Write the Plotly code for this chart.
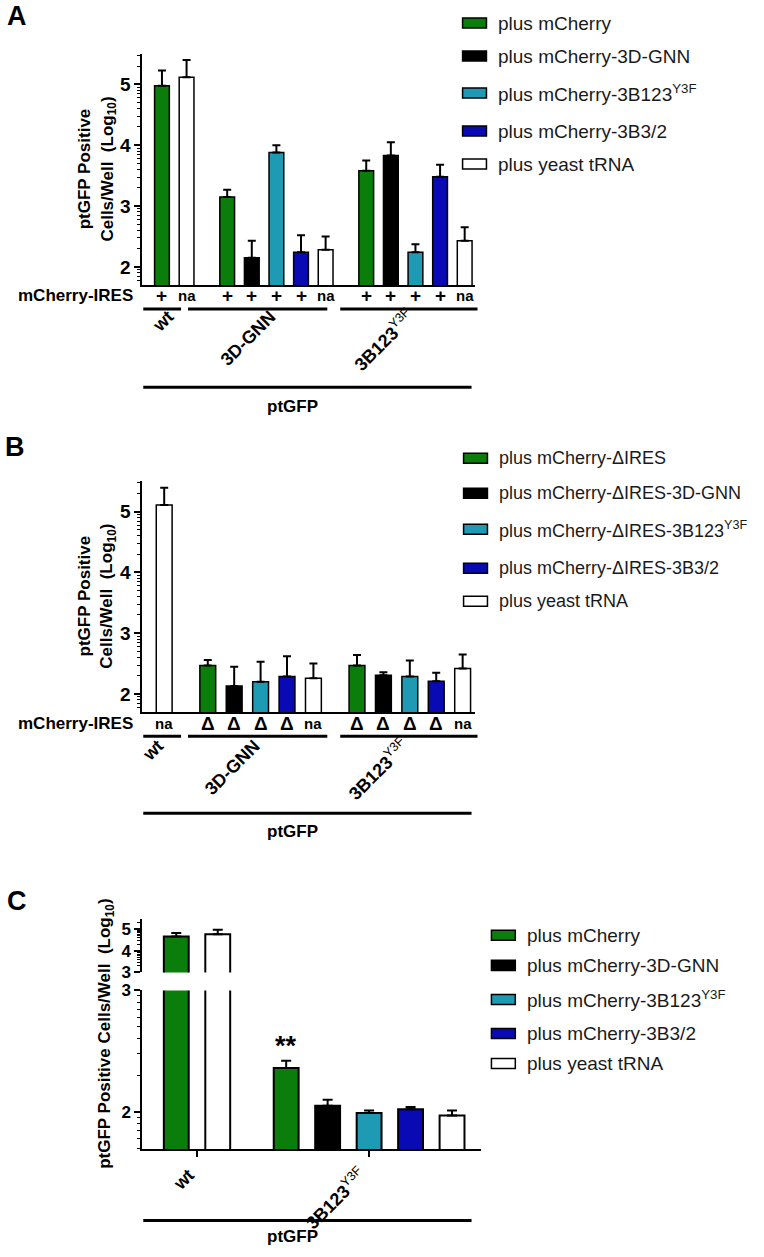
import math
import plotly.graph_objects as go

W, H = 764, 1257
FONT = "Arial, Liberation Sans, sans-serif"
# the page photo comes out slightly squeezed in height; place rows so they land where the reference has them
SHOT_Y0, SHOT_SY = 8.0, 0.9845

# ---- data: ptGFP positive cells/well (log10), mean and SEM ----
SERIES_A = ["plus mCherry", "plus mCherry-3D-GNN", "plus mCherry-3B123<sup>Y3F</sup>",
            "plus mCherry-3B3/2", "plus yeast tRNA"]
SERIES_B = ["plus mCherry-ΔIRES", "plus mCherry-ΔIRES-3D-GNN", "plus mCherry-ΔIRES-3B123<sup>Y3F</sup>",
            "plus mCherry-ΔIRES-3B3/2", "plus yeast tRNA"]
SERIES_C = SERIES_A

GROUPS_AB = ["wt", "3D-GNN", "3B123"]
GROUP_SUP_AB = ["", "", "Y3F"]
GROUPS_C = ["wt", "3B123"]
GROUP_SUP_C = ["", "Y3F"]

# rows = groups, columns = series (None = not tested)
A_MEAN = [
    [4.98, None, None, None, 5.12],
    [3.15, 2.15, 3.88, 2.24, 2.28],
    [3.58, 3.83, 2.24, 3.48, 2.43],
]
A_SEM = [
    [0.25, None, None, None, 0.28],
    [0.12, 0.28, 0.12, 0.28, 0.22],
    [0.17, 0.22, 0.13, 0.20, 0.22],
]
A_IRES = [["+", "na"], ["+", "+", "+", "+", "na"], ["+", "+", "+", "+", "na"]]

B_MEAN = [
    [None, None, None, None, 5.11],
    [2.47, 2.13, 2.20, 2.29, 2.26],
    [2.47, 2.31, 2.29, 2.21, 2.42],
]
B_SEM = [
    [None, None, None, None, 0.28],
    [0.09, 0.32, 0.33, 0.33, 0.24],
    [0.17, 0.05, 0.26, 0.14, 0.23],
]
B_IRES = [["na"], ["Δ", "Δ", "Δ", "Δ", "na"], ["Δ", "Δ", "Δ", "Δ", "na"]]

C_MEAN = [
    [4.67, None, None, None, 4.78],
    [2.36, 2.05, 1.99, 2.02, 1.97],
]
C_SEM = [
    [0.16, None, None, None, 0.21],
    [0.06, 0.05, 0.02, 0.02, 0.04],
]

COLORS = ["#0b7d0b", "#000000", "#1e9ab4", "#0a0ab4", "#ffffff"]


def fx(p):
    return p / W


def fy(p):
    q = (p - SHOT_Y0) / SHOT_SY
    return max(0.0, 1 - q / H)


def bar_positions(mean, gap=1.65):
    """x position of every bar, group by group, with a wider gap between groups."""
    pos, cur = [], -gap
    for row in mean:
        cur += gap
        grp = []
        for s, v in enumerate(row):
            if v is not None:
                grp.append((s, cur))
                cur += 1
        cur -= 1
        pos.append(grp)
    return pos


def add_bars(fig, mean, sem, xa, ya, cap, lw):
    pos = bar_positions(mean)
    for s in range(len(COLORS)):
        xs, ys, es = [], [], []
        for g, grp in enumerate(pos):
            for si, x in grp:
                if si == s:
                    xs.append(x)
                    ys.append(mean[g][s])
                    es.append(sem[g][s])
        fig.add_trace(go.Bar(
            x=xs, y=ys, width=0.6,
            marker={"color": COLORS[s], "line": {"color": "black", "width": lw}},
            error_y={"type": "data", "array": es, "arrayminus": [0] * len(es),
                     "symmetric": False, "color": "black", "thickness": 2, "width": cap},
            xaxis=xa, yaxis=ya, showlegend=False, hoverinfo="skip"))
    return pos


def add_legend(fig, series, x0, ys, size=19):
    for s, (name, y) in enumerate(zip(series, ys)):
        fig.add_shape(type="rect", xref="paper", yref="paper",
                      x0=fx(x0), x1=fx(x0 + 24), y0=fy(y + 5), y1=fy(y - 5),
                      fillcolor=COLORS[s], line={"color": "black", "width": 1.5})
        fig.add_annotation(xref="paper", yref="paper", x=fx(x0 + 34), y=fy(y),
                           text=name, xanchor="left", yanchor="middle", showarrow=False,
                           font={"size": size, "family": FONT, "color": "#1a1a1a"})


def hline(fig, x0, x1, y):
    fig.add_shape(type="line", xref="paper", yref="paper",
                  x0=fx(x0), x1=fx(x1), y0=fy(y), y1=fy(y),
                  line={"color": "black", "width": 3})


def text(fig, x, y, s, size=17, bold=True, angle=0, xanchor="center", yanchor="middle"):
    fig.add_annotation(xref="paper", yref="paper", x=fx(x), y=fy(y),
                       text=f"<b>{s}</b>" if bold else s, textangle=angle,
                       xanchor=xanchor, yanchor=yanchor, showarrow=False, borderpad=0,
                       font={"size": size, "family": FONT, "color": "black"})


def group_ticks(pos, names, sups):
    vals = [sum(x for _, x in grp) / len(grp) for grp in pos]
    labels = [f"<b>{n}</b>" + (f"<sup>{s}</sup>" if s else "") for n, s in zip(names, sups)]
    return vals, labels


fig = go.Figure()

pos_a = add_bars(fig, A_MEAN, A_SEM, "x", "y", 4, 1.5)
pos_b = add_bars(fig, B_MEAN, B_SEM, "x2", "y2", 4, 1.5)
pos_c = add_bars(fig, C_MEAN, C_SEM, "x3", "y3", 5, 2)
add_bars(fig, C_MEAN, C_SEM, "x3", "y4", 5, 2)

minor_vals = [n + math.log10(k) for n in range(1, 6) for k in range(2, 10)]

yax = dict(showline=True, linecolor="black", linewidth=2, ticks="outside", ticklen=6,
           tickwidth=2, tickcolor="black", showgrid=False, zeroline=False,
           tickfont={"size": 19, "weight": "bold", "family": FONT, "color": "black"},
           minor={"tickmode": "array", "tickvals": minor_vals, "ticks": "outside",
                  "ticklen": 3, "tickwidth": 1, "tickcolor": "black"})
yax_c = dict(yax, tickfont={"size": 17, "weight": "bold", "family": FONT, "color": "black"})
xax = dict(showline=True, linecolor="black", linewidth=2, showgrid=False, zeroline=False,
           tickangle=-45, tickfont={"size": 18, "family": FONT, "color": "black"})

tv_a, tt_a = group_ticks(pos_a, GROUPS_AB, GROUP_SUP_AB)
tv_b, tt_b = group_ticks(pos_b, GROUPS_AB, GROUP_SUP_AB)
tv_c, tt_c = group_ticks(pos_c, GROUPS_C, GROUP_SUP_C)

fig.update_layout(
    width=W, height=H, margin={"l": 0, "r": 0, "t": 0, "b": 0},
    plot_bgcolor="white", paper_bgcolor="white", barmode="overlay", showlegend=False,
    font={"family": FONT, "color": "black"},
    xaxis=dict(xax, domain=[fx(139), fx(473)], range=[-0.8, 12.7], anchor="y",
               ticks="", tickvals=tv_a, ticktext=tt_a, ticklabelstandoff=12, ticklabelshift=-6),
    yaxis=dict(yax, domain=[fy(284), fy(53)], range=[1.7, 5.5], anchor="x", tickvals=[2, 3, 4, 5]),
    xaxis2=dict(xax, domain=[fx(139), fx(473)], range=[-0.83, 11.75], anchor="y2",
                ticks="", tickvals=tv_b, ticktext=tt_b, ticklabelstandoff=14, ticklabelshift=-6),
    yaxis2=dict(yax, domain=[fy(711), fy(480)], range=[1.7, 5.5], anchor="x2", tickvals=[2, 3, 4, 5]),
    xaxis3=dict(xax, domain=[fx(139), fx(480)], range=[-0.82, 7.36], anchor="y3",
                ticks="outside", ticklen=6, tickwidth=2, tickcolor="black",
                tickvals=tv_c, ticktext=tt_c, ticklabelshift=-8),
    yaxis3=dict(yax_c, domain=[fy(1148), fy(989)], range=[1.69, 3], anchor="x3", tickvals=[2, 3]),
    yaxis4=dict(yax_c, domain=[fy(971), fy(918)], range=[3, 5.47], anchor="x3", tickvals=[3, 4, 5]),
)

# panel letters
text(fig, 13, 15, "A", size=27)
text(fig, 11, 446, "B", size=27)
text(fig, 13, 900, "C", size=27)

# y titles
ytitle = "<b>ptGFP Positive</b><br><b>Cells/Well&nbsp; (Log<sub>10</sub>)</b>"
text(fig, 94, 168, ytitle, bold=False, angle=-90)
text(fig, 94, 595, ytitle, bold=False, angle=-90)
text(fig, 103, 1032, "<b>ptGFP Positive Cells/Well&nbsp; (Log<sub>10</sub>)</b>", bold=False, angle=-90)

# mCherry-IRES rows
for pos, ires, row_y, xa in [(pos_a, A_IRES, 294, "x"), (pos_b, B_IRES, 722, "x2")]:
    text(fig, 131, row_y, "mCherry-IRES", size=17, xanchor="right")
    for g, grp in enumerate(pos):
        for k, (_, x) in enumerate(grp):
            sym = ires[g][k]
            fig.add_annotation(xref=xa, yref="paper", x=x, y=fy(row_y), text=f"<b>{sym}</b>",
                               showarrow=False, yanchor="middle",
                               font={"size": 19 if sym != "na" else 15, "family": FONT})

# group underlines and ptGFP brackets
for y in (308, 735):
    for x0, x1 in [(140, 178), (185, 325), (338, 476)]:
        hline(fig, x0, x1, y)
for y in (386, 812, 1219):
    hline(fig, 140, 470, y)
text(fig, 290, 405, "ptGFP", size=17)
text(fig, 290, 830, "ptGFP", size=17)
text(fig, 290, 1257, "ptGFP", size=17, yanchor="bottom")

# significance mark
g_star = pos_c[1][0]
fig.add_annotation(xref="x3", yref="y3", x=g_star[1], y=C_MEAN[1][0] + C_SEM[1][0],
                   text="<b>**</b>", showarrow=False, yanchor="bottom", yshift=-2,
                   font={"size": 27, "family": FONT})

add_legend(fig, SERIES_A, 461, [22, 55, 92, 130, 163])
add_legend(fig, SERIES_B, 462, [457, 492, 528, 567, 600], size=18)
add_legend(fig, SERIES_C, 490, [934, 964, 998, 1032, 1062])

# drop the page's default body margin so the figure sits at the window's corner
fig.write_html("out.html", config={"displayModeBar": False},
               post_script="document.body.style.margin='0';"
                           "document.documentElement.style.overflow='hidden';")
